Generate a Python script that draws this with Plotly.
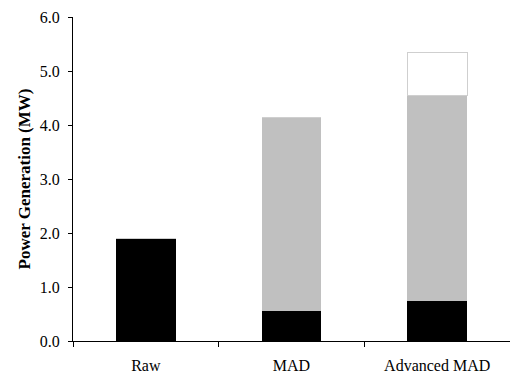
import plotly.graph_objects as go

categories = ["Raw", "MAD", "Advanced MAD"]
base_values = [1.90, 0.56, 0.74]      # black segment
mid_values = [0.0, 3.57, 3.80]        # gray segment
top_values = [0.0, 0.0, 0.81]         # white segment
y_ticks = [0, 1, 2, 3, 4, 5, 6]

FONT = "Liberation Serif"

fig = go.Figure()
fig.add_trace(go.Bar(x=categories, y=base_values, marker=dict(color="#000000", line=dict(width=0)), width=0.41))
fig.add_trace(go.Bar(x=categories, y=mid_values, marker=dict(color="#c0c0c0", line=dict(width=0)), width=0.41))
fig.add_trace(go.Bar(x=categories, y=top_values, marker=dict(color="#ffffff", line=dict(color="#cfcfcf", width=1)), width=0.41))

fig.update_layout(
    barmode="stack",
    width=510, height=374,
    margin=dict(l=73, r=0, t=17, b=33),
    paper_bgcolor="white", plot_bgcolor="white",
    showlegend=False,
    font=dict(family=FONT, size=16, color="black"),
)
fig.update_xaxes(
    showline=True, linecolor="black", linewidth=1,
    ticks="outside", tickson="boundaries", ticklen=5, tickcolor="black",
    showgrid=False, ticklabelstandoff=10,
)
fig.update_yaxes(
    range=[0, 6], tickvals=y_ticks, tickformat=".1f",
    showline=True, linecolor="black", linewidth=1,
    ticks="outside", ticklen=4, tickcolor="black",
    showgrid=False, zeroline=False, ticklabelstandoff=5,
    title=dict(text="<b>Power Generation (MW)</b>", font=dict(size=17), standoff=4),
)

fig.write_html(
    "out.html",
    config={"displayModeBar": False},
    post_script="document.body.style.margin='0';document.body.style.overflow='hidden';",
)
